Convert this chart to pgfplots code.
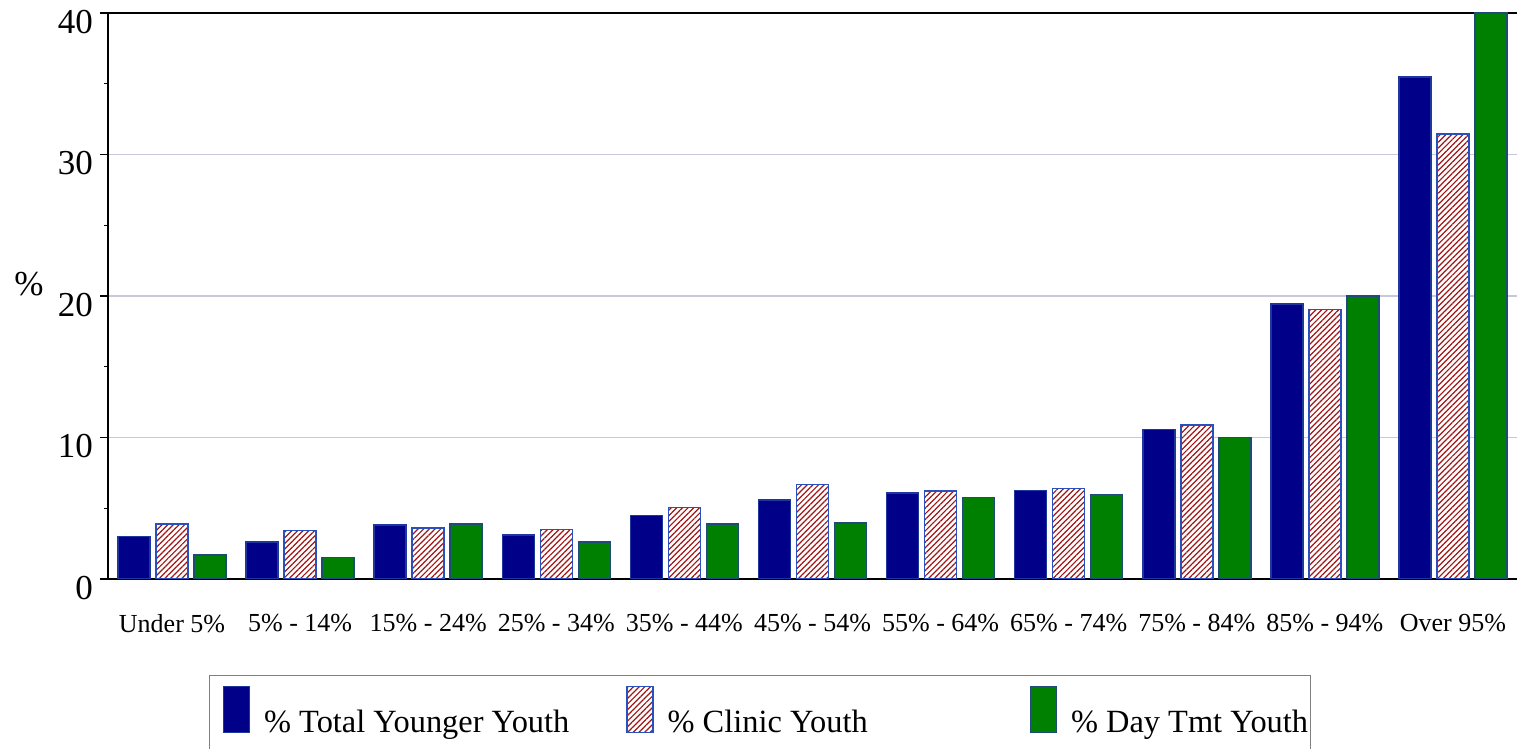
\documentclass[border=0pt]{standalone}
\usepackage{fontspec}
\setmainfont{Liberation Serif}
\usepackage{pgfplots}
\pgfplotsset{compat=1.18}
\usetikzlibrary{patterns.meta}

\definecolor{navybar}{RGB}{0,0,136}
\definecolor{greenbar}{RGB}{0,128,0}
\definecolor{hatchred}{RGB}{160,20,20}
\definecolor{edgeblue}{RGB}{40,80,190}
\definecolor{edgenavy}{RGB}{30,55,160}
\definecolor{edgegreen}{RGB}{30,75,120}
\definecolor{gridc}{RGB}{200,200,220}
\definecolor{legbox}{RGB}{128,128,128}

\begin{document}
\begin{tikzpicture}
\useasboundingbox (0,0) rectangle (758.5pt,374.5pt);
\begin{axis}[
  at={(54pt,85pt)}, anchor=south west,
  scale only axis, width=704.5pt, height=283pt,
  ybar=3pt, bar width=16pt,
  xmin=-0.5, xmax=10.5, ymin=0, ymax=40,
  xtick={0,1,2,3,4,5,6,7,8,9,10},
  xticklabels={Under 5\%, 5\% - 14\%, 15\% - 24\%, 25\% - 34\%, 35\% - 44\%, 45\% - 54\%, 55\% - 64\%, 65\% - 74\%, 75\% - 84\%, 85\% - 94\%, Over 95\%},
  ytick={0,10,20,30,40},
  minor ytick={5,15,25,35},
  axis x line=box, axis y line*=left,
  axis line style={-, black, line width=0.8pt},
  ytick pos=left, tick align=outside,
  major tick length=4pt, minor tick length=2pt,
  tick style={black, line width=0.6pt},
  x tick style={draw=none},
  ymajorgrids, major grid style={gridc, line width=0.6pt},
  /pgf/number format/assume math mode=true,
  yticklabel style={font=\fontsize{17.5}{20}\selectfont, yshift=-4.5pt},
  xticklabel style={font=\fontsize{13}{15}\selectfont, yshift=-10pt},
  ylabel={\%},
  ylabel style={rotate=-90, at={(axis description cs:-0.0561,0.521)}, anchor=center, font=\fontsize{17.5}{20}\selectfont},
  legend columns=3,
  legend cell align=left,
  legend style={at={(axis description cs:0,0)}, anchor=north west, xshift=50.5pt, yshift=-48pt,
    draw=legbox, line width=0.6pt, inner xsep=6.5pt, inner ysep=5pt,
    font=\fontsize{16.2}{19}\selectfont, nodes={inner sep=0pt}, column sep=0pt, row sep=0pt},
  legend image code/.code={\draw[#1, line width=0.75pt] (0pt,0pt) rectangle (13pt,23pt); \path (20pt,0pt);},
]
\addplot[fill=navybar, draw=edgenavy, line width=0.75pt] coordinates {
 (0,3.0) (1,2.6) (2,3.8) (3,3.1) (4,4.5) (5,5.6) (6,6.06) (7,6.24) (8,10.58) (9,19.43) (10,35.46)};
\addlegendentry{\raisebox{10pt}{\makebox[181pt][l]{\% Total Younger Youth}}}
\addplot[fill=white, draw=edgeblue, line width=0.75pt,
  postaction={pattern={Lines[angle=45,distance=2pt,line width=0.6pt]}, pattern color=hatchred}] coordinates {
 (0,3.87) (1,3.44) (2,3.6) (3,3.5) (4,5.04) (5,6.69) (6,6.22) (7,6.38) (8,10.9) (9,19.06) (10,31.45)};
\addlegendentry{\raisebox{10pt}{\makebox[181pt][l]{\% Clinic Youth}}}
\addplot[fill=greenbar, draw=edgegreen, line width=0.75pt] coordinates {
 (0,1.7) (1,1.53) (2,3.87) (3,2.6) (4,3.87) (5,3.96) (6,5.77) (7,5.96) (8,10.0) (9,20.0) (10,40.0)};
\addlegendentry{\raisebox{10pt}{\makebox[113pt][l]{\% Day Tmt Youth}}}
\end{axis}
\end{tikzpicture}
\end{document}
